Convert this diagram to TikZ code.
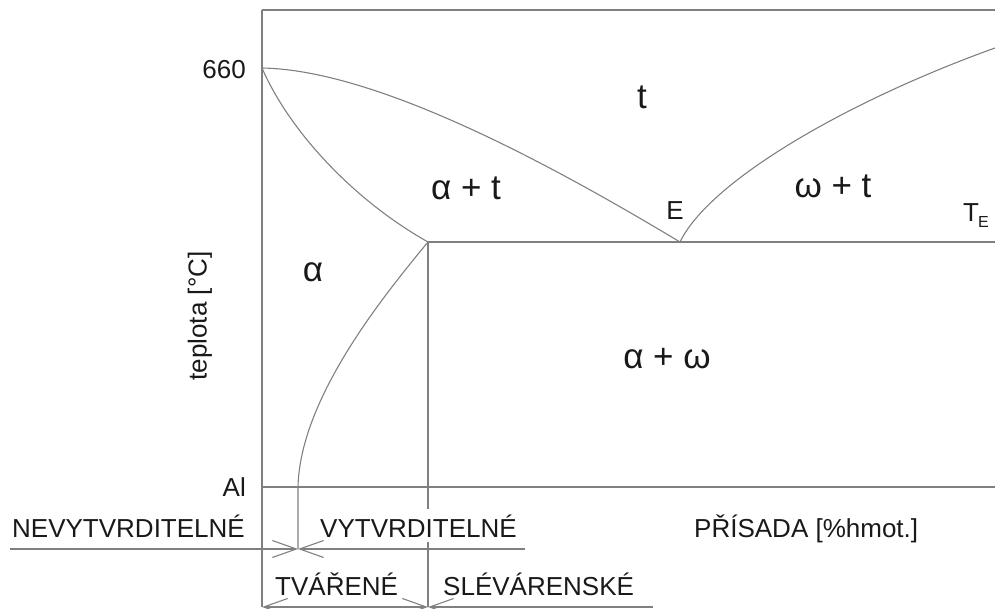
\documentclass[tikz,border=0pt]{standalone}
\usepackage{fontspec}
\setmainfont{Liberation Sans}
\usetikzlibrary{arrows.meta,positioning}

\begin{document}
\begin{tikzpicture}[
    x=1pt, y=-1pt,
    >={Straight Barb[length=24pt, width=17pt]},
    ln/.style={draw=black!50, line width=1.1pt},
    lbl/.style={inner sep=0pt, font=\fontsize{26}{30}\selectfont, text=black!90},
    phase/.style={inner sep=0pt, font=\fontsize{35}{40}\selectfont, text=black!90}
]
\useasboundingbox (0,0) rectangle (995,609);

% ================= COORDINATES =================
\coordinate (Top) at (262,10);
\coordinate (TopR) at (995,10);
\coordinate (Melt) at (262,68);
\coordinate (Sat) at (428,242);
\coordinate (Eut) at (680,242);
\coordinate (EutR) at (995,242);
\coordinate (LiqR) at (995,48);
\coordinate (Sol) at (298,487);
\coordinate (AlL) at (262,487);
\coordinate (AlR) at (995,487);
\coordinate (Cut) at (298,549);
\coordinate (CutL) at (10,549);
\coordinate (CutR) at (525,549);
\coordinate (Base) at (262,607);
\coordinate (CastB) at (428,607);
\coordinate (CastR) at (653,607);

% ================= LINES =================
\draw[ln] (Top) -- (TopR);
\draw[ln] (Top) -- (Base);
\draw[ln] (Melt) .. controls (380,70) and (560,170) .. (Eut);
\draw[ln] (Eut) .. controls (710,180) and (850,100) .. (LiqR);
\draw[ln] (Melt) .. controls (288,128) and (350,198) .. (Sat);
\draw[ln] (Sat) .. controls (380,300) and (300,400) .. (Sol) -- (Cut);
\draw[ln] (Sat) -- (EutR);
\draw[ln] (AlL) -- (AlR);
\draw[ln] (Sat) -- (428,509);
\draw[ln] (428,542) -- (CastB);

% ================= DIMENSION LINES =================
\draw[ln, ->] (CutL) -- (Cut);
\draw[ln, ->] (CutR) -- (Cut);
\draw[ln, <->] (Base) -- (CastB);
\draw[ln, ->] (CastR) -- (CastB);

% ================= LABELS =================
\node[lbl, anchor=east] (T660) at (246,70) {660};
\node[lbl, anchor=east] (Al) at (246,487) {Al};
\node[lbl, rotate=90] (Temp) at (200,316) {teplota [°C]};
\node[phase, anchor=base] (Liq) at (642,109) {t};
\node[phase, anchor=base] (AT) at (466,200) {α + t};
\node[phase, anchor=base] (WT) at (833,198) {ω + t};
\node[lbl, anchor=base] (EL) at (675,220) {E};
\node[lbl, anchor=base west] (TE) at (963,222) {T\kern-1pt\raisebox{-6pt}{\fontsize{16}{16}\selectfont E}};
\node[phase, anchor=base] (A) at (313,282) {α};
\node[phase, anchor=base] (AW) at (667,368) {α + ω};
\node[lbl, anchor=base west] (NonHard) at (12,537) {NEVYTVRDITELNÉ};
\node[lbl, anchor=base west] (Hard) at (320,537) {VYTVRDITELNÉ};
\node[lbl, anchor=base west] (Add) at (694,537) {PŘÍSADA [\%hmot.]};
\node[lbl, anchor=base west] (Wrought) at (275,595) {TVÁŘENÉ};
\node[lbl, anchor=base west] (Cast) at (443,595) {SLÉVÁRENSKÉ};

\end{tikzpicture}
\end{document}
